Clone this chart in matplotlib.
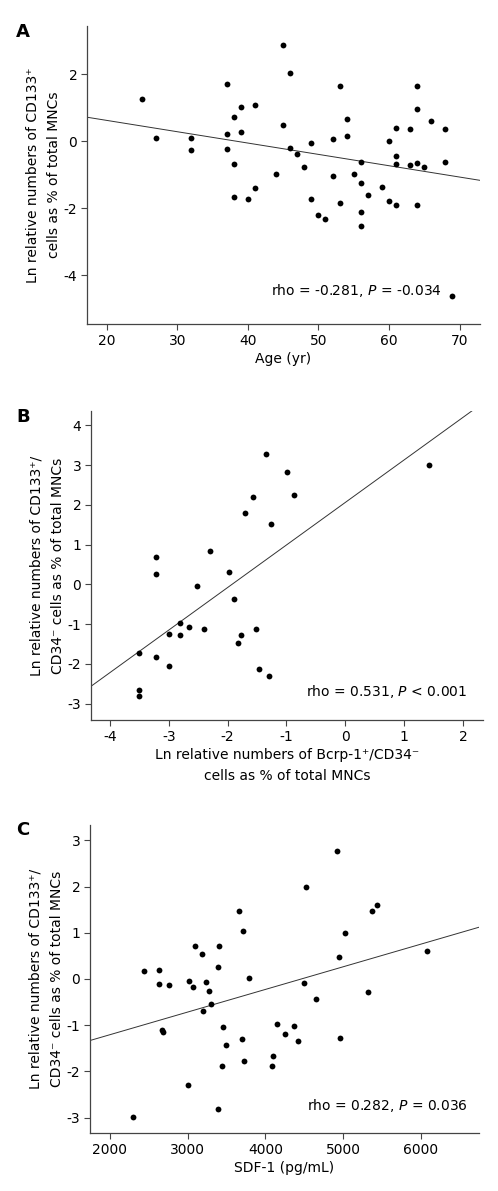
import numpy as np
import matplotlib
matplotlib.use("Agg")
import matplotlib.pyplot as plt

plt.rcParams["font.family"] = "DejaVu Sans"
plt.rcParams["mathtext.fontset"] = "dejavusans"
plt.rcParams["axes.unicode_minus"] = False

# Panel A: age vs ln CD133+
age = [25, 27, 32, 32, 37, 37, 37, 38, 39, 39, 38, 38, 40, 41, 41,
       45, 46, 45, 46, 47, 48, 44, 49, 49, 50, 51, 52, 52, 53, 53,
       54, 54, 55, 56, 56, 56, 56, 57, 59, 60, 60, 61, 61, 61, 61,
       63, 63, 64, 64, 64, 64, 65, 66, 68, 68, 69]
cd133_a = [1.26, 0.11, 0.11, -0.27, 1.71, 0.23, -0.22, 0.73, 1.01, 0.28, -0.67, -1.65, -1.72, 1.09, -1.38,
           2.88, 2.03, 0.49, -0.19, -0.38, -0.78, -0.98, -0.04, -1.72, -2.20, -2.31, 0.08, -1.03, 1.65, -1.84,
           0.68, 0.17, -0.98, -0.61, -1.24, -2.12, -2.53, -1.61, -1.35, 0.0, -1.77, 0.41, -0.45, -0.69, -1.89,
           0.38, -0.71, 1.64, 0.96, -0.64, -1.89, -0.77, 0.60, 0.37, -0.62, -4.60]
fit_a = (-0.0338, 1.30)   # slope, intercept

# Panel B: ln Bcrp-1+/CD34- vs ln CD133+/CD34-
bcrp = [-3.22, -3.22, -2.30, -2.52, -1.97, -1.89, -1.71, -2.81, -2.99, -2.80,
        -2.66, -2.40, -1.83, -1.77, -3.50, -3.22, -2.99, -3.50, -3.50,
        -1.35, -0.99, -0.87, -1.56, -1.27, 1.42, -1.51, -1.46, -1.30]
cd133_b = [0.69, 0.27, 0.84, -0.04, 0.31, -0.36, 1.80, -0.96, -1.24, -1.27,
           -1.07, -1.11, -1.47, -1.27, -1.72, -1.83, -2.04, -2.66, -2.81,
           3.28, 2.83, 2.26, 2.19, 1.52, 3.00, -1.13, -2.12, -2.30]
fit_b = (1.07, 2.06)

# Panel C: SDF-1 vs ln CD133+/CD34-
sdf1 = [2305, 2442, 2635, 2635, 2763, 2673, 2691, 3000, 3021, 3077, 3094,
        3188, 3244, 3278, 3300, 3197, 3403, 3394, 3454, 3493, 3446, 3394,
        3656, 3708, 3695, 3729, 3790, 4926, 4527, 5376, 5432, 5020, 4943,
        6080, 4493, 4651, 5325, 4145, 4368, 4256, 4416, 4960, 4098, 4089]
cd133_c = [-2.99, 0.17, 0.19, -0.11, -0.13, -1.11, -1.14, -2.30, -0.04, -0.17, 0.71,
           0.53, -0.06, -0.27, -0.53, -0.70, 0.72, 0.26, -1.04, -1.43, -1.89, -2.81,
           1.48, 1.04, -1.30, -1.77, 0.02, 2.76, 1.99, 1.48, 1.60, 0.99, 0.48,
           0.61, -0.09, -0.43, -0.28, -0.97, -1.02, -1.20, -1.35, -1.27, -1.66, -1.89]
fit_c = (0.00049, -2.186)

W, H = 498, 1191
fig = plt.figure(figsize=(W / 100, H / 100), dpi=100)


def make_ax(l, r, t, b):
    return fig.add_axes([l / W, 1 - b / H, (r - l) / W, (b - t) / H])


def style(ax):
    for s in ["top", "right"]:
        ax.spines[s].set_visible(False)
    for s in ["left", "bottom"]:
        ax.spines[s].set_color("#444444")
        ax.spines[s].set_linewidth(0.9)
    ax.tick_params(direction="out", length=4, width=0.8, color="#444444",
                   labelsize=10, pad=3)


panels = [
    dict(box=(87, 480, 26, 324), x=age, y=cd133_a, fit=fit_a,
         xlim=(17.2, 72.9), ylim=(-5.45, 3.44),
         xticks=[20, 30, 40, 50, 60, 70], yticks=[-4, -2, 0, 2],
         xlabel="Age (yr)",
         ylabel="Ln relative numbers of CD133\u207a\ncells as % of total MNCs",
         note="rho = -0.281, $\\mathit{P}$ = -0.034", note_x=442, note_y=295,
         letter="A", letter_y=37),
    dict(box=(91, 483, 411, 720), x=bcrp, y=cd133_b, fit=fit_b,
         xlim=(-4.32, 2.34), ylim=(-3.41, 4.36),
         xticks=[-4, -3, -2, -1, 0, 1, 2], yticks=[-3, -2, -1, 0, 1, 2, 3, 4],
         xlabel="Ln relative numbers of Bcrp-1\u207a/CD34\u207b\ncells as % of total MNCs",
         ylabel="Ln relative numbers of CD133\u207a/\nCD34\u207b cells as % of total MNCs",
         note="rho = 0.531, $\\mathit{P}$ < 0.001", note_x=467, note_y=696,
         letter="B", letter_y=422),
    dict(box=(90, 479, 825, 1133), x=sdf1, y=cd133_c, fit=fit_c,
         xlim=(1747, 6746), ylim=(-3.33, 3.33),
         xticks=[2000, 3000, 4000, 5000, 6000], yticks=[-3, -2, -1, 0, 1, 2, 3],
         xlabel="SDF-1 (pg/mL)",
         ylabel="Ln relative numbers of CD133\u207a/\nCD34\u207b cells as % of total MNCs",
         note="rho = 0.282, $\\mathit{P}$ = 0.036", note_x=468, note_y=1110,
         letter="C", letter_y=835),
]

for p in panels:
    ax = make_ax(*p["box"])
    style(ax)
    ax.set_xlim(*p["xlim"])
    ax.set_ylim(*p["ylim"])
    ax.set_xticks(p["xticks"])
    ax.set_yticks(p["yticks"])
    slope, icpt = p["fit"]
    xs = np.array(p["xlim"])
    ax.plot(xs, slope * xs + icpt, color="#333333", lw=0.7)
    ax.plot(p["x"], p["y"], "o", color="black", ms=4.2, mec="none")
    ax.set_xlabel(p["xlabel"], fontsize=10, labelpad=3, linespacing=1.65)
    ax.set_ylabel(p["ylabel"], fontsize=10, labelpad=2, linespacing=1.65)
    fig.text(p["note_x"] / W, 1 - p["note_y"] / H, p["note"], fontsize=10,
             ha="right", va="baseline")
    fig.text(16 / W, 1 - p["letter_y"] / H, p["letter"], fontsize=13,
             fontweight="bold", ha="left", va="baseline")

fig.savefig("out.png", dpi=100)
